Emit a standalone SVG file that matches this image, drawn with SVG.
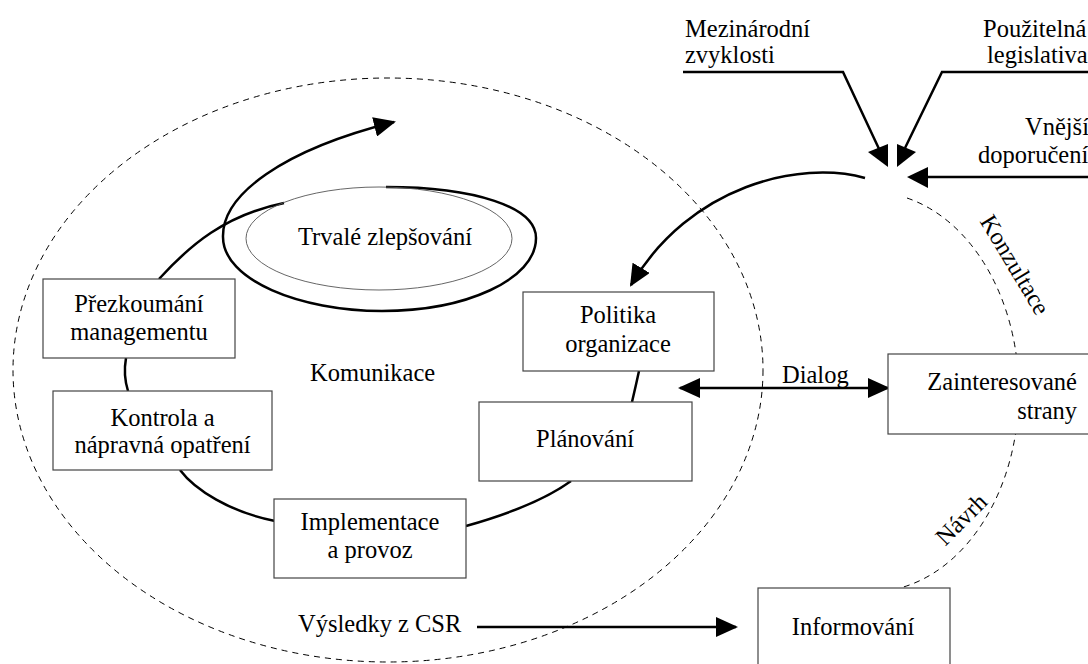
<svg xmlns="http://www.w3.org/2000/svg" width="1088" height="664" viewBox="0 0 1088 664">
<defs>
<style>
text{font-family:"Liberation Serif","Times New Roman",serif;font-size:24.5px;fill:#000}
.box{fill:#fff;stroke:#444;stroke-width:1.2}
.dash{fill:none;stroke:#000;stroke-width:1;stroke-dasharray:6 5}
.con{fill:none;stroke:#000;stroke-width:2.5}
.ah{fill:#000;stroke:none}
.mid{text-anchor:middle}
</style>
<marker id="arr" markerUnits="userSpaceOnUse" markerWidth="22" markerHeight="20" viewBox="0 0 22 20" refX="20" refY="10" orient="auto-start-reverse">
<path d="M0,0 L22,10 L0,20 z" fill="#000"/>
</marker>
</defs>
<rect width="1088" height="664" fill="#fff"/>

<g id="boundaries">
<ellipse class="dash" cx="388" cy="370" rx="375" ry="292"/>
<path class="dash" d="M907,198 A148,200 0 0 1 900,588"/>
</g>

<g id="connectors">
<path class="con" d="M126,358 Q123,375 128,391"/>
<path class="con" d="M180,470 C195,490 230,512 275,521"/>
<path class="con" d="M466,526 C505,515 545,500 571,481"/>
<path class="con" d="M632,402 Q636,385 639,371"/>
<path class="con" d="M159,279 C190,245 225,215 284,203"/>
<path class="con" d="M386,187 C475,187 536,207 536,238 C536,280 465,311 382,311 C300,311 223,280 223,237 C222,195 282,150 394,122" marker-end="url(#arr)"/>
<path class="con" d="M865,178 C800,160 690,185 631,285" marker-end="url(#arr)"/>
<line class="con" x1="680" y1="388" x2="888" y2="388" marker-start="url(#arr)" marker-end="url(#arr)"/>
<line class="con" x1="477" y1="627" x2="736" y2="627" marker-end="url(#arr)"/>
<polyline class="con" points="683,72 843,72 880,151"/>
<polygon class="ah" points="868,152 888,144 888,167"/>
<polyline class="con" points="1090,72 942,72 905,148"/>
<polygon class="ah" points="897,144 916,152 897,167"/>
<line class="con" x1="1090" y1="177" x2="926" y2="177"/>
<polygon class="ah" points="907,177 928,167 928,188"/>
</g>

<g id="trvale">
<ellipse cx="379" cy="238.5" rx="133" ry="51.5" fill="none" stroke="#555" stroke-width="0.9"/>
<text class="mid" x="385" y="245">Trvalé zlepšování</text>
</g>

<g id="prezkoumani">
<rect class="box" x="43" y="279" width="192" height="79"/>
<text class="mid" x="139" y="312">Přezkoumání</text>
<text class="mid" x="139" y="340">managementu</text>
</g>

<g id="kontrola">
<rect class="box" x="53" y="391" width="219" height="79"/>
<text class="mid" x="162.5" y="426">Kontrola a</text>
<text class="mid" x="162.5" y="453">nápravná opatření</text>
</g>

<g id="implementace">
<rect class="box" x="274" y="499" width="192" height="79"/>
<text class="mid" x="370" y="530">Implementace</text>
<text class="mid" x="370" y="558">a provoz</text>
</g>

<g id="planovani">
<rect class="box" x="479" y="402" width="213" height="79"/>
<text class="mid" x="585" y="447">Plánování</text>
</g>

<g id="politika">
<rect class="box" x="523" y="292" width="191" height="79"/>
<text class="mid" x="618" y="323">Politika</text>
<text class="mid" x="618" y="352">organizace</text>
</g>

<g id="zainteresovane">
<rect class="box" x="888" y="354" width="210" height="80"/>
<text x="1077" y="390" text-anchor="end">Zainteresované</text>
<text x="1077" y="419" text-anchor="end">strany</text>
</g>

<g id="informovani">
<rect class="box" x="758" y="588" width="192" height="90"/>
<text class="mid" x="853" y="635">Informování</text>
</g>

<g id="labels">
<text x="310" y="381">Komunikace</text>
<text x="298" y="632">Výsledky z CSR</text>
<text x="782" y="383">Dialog</text>
<text x="685" y="37">Mezinárodní</text>
<text x="685" y="63">zvyklosti</text>
<text x="983" y="37">Použitelná</text>
<text x="987" y="63">legislativa</text>
<text x="1025" y="135">Vnější</text>
<text x="978" y="163">doporučení</text>
<text class="mid" x="1008" y="269" transform="rotate(59 1008 269)">Konzultace</text>
<text class="mid" x="967" y="525" transform="rotate(-45 967 525)">Návrh</text>
</g>
</svg>
